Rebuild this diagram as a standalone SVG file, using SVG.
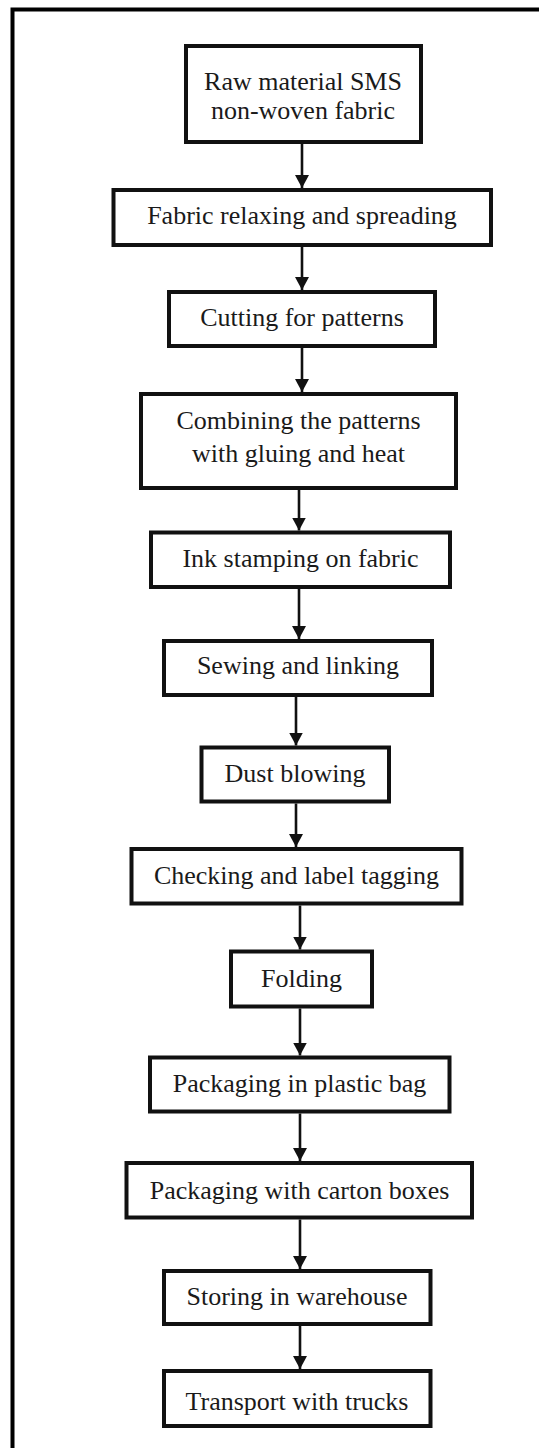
<svg xmlns="http://www.w3.org/2000/svg" width="539" height="1448" viewBox="0 0 539 1448">
  <style>
    .box { fill: #ffffff; stroke: #111111; stroke-width: 4; }
    .lbl { font-family: "Liberation Serif", "Times New Roman", serif; font-size: 26px; fill: #1a1a1a; text-anchor: middle; }
    .frame { fill: none; stroke: #000000; stroke-width: 4; }
    .edge { stroke: #111111; stroke-width: 2.6; fill: none; marker-end: url(#head); }
  </style>
  <defs>
    <marker id="head" markerUnits="userSpaceOnUse" markerWidth="16" markerHeight="14" refX="13" refY="7" orient="auto">
      <path d="M0,0 L13,7 L0,14 Z" fill="#111111"/>
    </marker>
  </defs>
  <rect width="539" height="1448" fill="#ffffff"/>
  <!-- open frame: top and left edges only -->
  <path class="frame" d="M12.5,1448 L12.5,9.5 L539,9.5"/>

  <g id="connectors">
    <line class="edge" x1="302" y1="144" x2="302" y2="188"/>
    <line class="edge" x1="302" y1="247" x2="302" y2="290"/>
    <line class="edge" x1="302" y1="348" x2="302" y2="392"/>
    <line class="edge" x1="299" y1="490" x2="299" y2="530.5"/>
    <line class="edge" x1="299" y1="589" x2="299" y2="639"/>
    <line class="edge" x1="296" y1="697" x2="296" y2="745.5"/>
    <line class="edge" x1="296" y1="803.5" x2="296" y2="847"/>
    <line class="edge" x1="300" y1="905.5" x2="300" y2="949.5"/>
    <line class="edge" x1="300" y1="1008.5" x2="300" y2="1055.5"/>
    <line class="edge" x1="300" y1="1113.5" x2="300" y2="1161"/>
    <line class="edge" x1="300" y1="1219.5" x2="300" y2="1269"/>
    <line class="edge" x1="300" y1="1326" x2="300" y2="1369"/>
  </g>

  <g id="n1">
    <rect class="box" x="186" y="46" width="235" height="96"/>
    <text class="lbl" x="303" y="90">Raw material SMS</text>
    <text class="lbl" x="303" y="119">non-woven fabric</text>
  </g>
  <g id="n2">
    <rect class="box" x="113.5" y="190" width="377.5" height="55"/>
    <text class="lbl" x="302" y="224">Fabric relaxing and spreading</text>
  </g>
  <g id="n3">
    <rect class="box" x="169" y="292" width="266" height="54"/>
    <text class="lbl" x="302" y="326">Cutting for patterns</text>
  </g>
  <g id="n4">
    <rect class="box" x="141" y="394" width="315" height="94"/>
    <text class="lbl" x="298.5" y="428.5">Combining the patterns</text>
    <text class="lbl" x="298.5" y="461.5">with gluing and heat</text>
  </g>
  <g id="n5">
    <rect class="box" x="151" y="532.5" width="299" height="54.5"/>
    <text class="lbl" x="300.5" y="567">Ink stamping on fabric</text>
  </g>
  <g id="n6">
    <rect class="box" x="164" y="641" width="268" height="54"/>
    <text class="lbl" x="298" y="674">Sewing and linking</text>
  </g>
  <g id="n7">
    <rect class="box" x="201.5" y="747.5" width="187.5" height="54"/>
    <text class="lbl" x="295" y="782">Dust blowing</text>
  </g>
  <g id="n8">
    <rect class="box" x="131.5" y="849" width="330" height="54.5"/>
    <text class="lbl" x="296.5" y="883.5">Checking and label tagging</text>
  </g>
  <g id="n9">
    <rect class="box" x="231" y="951.5" width="141" height="55"/>
    <text class="lbl" x="301.5" y="987">Folding</text>
  </g>
  <g id="n10">
    <rect class="box" x="150" y="1057.5" width="299.5" height="54"/>
    <text class="lbl" x="299.5" y="1092">Packaging in plastic bag</text>
  </g>
  <g id="n11">
    <rect class="box" x="126.5" y="1163" width="345.5" height="54.5"/>
    <text class="lbl" x="299.5" y="1198.5">Packaging with carton boxes</text>
  </g>
  <g id="n12">
    <rect class="box" x="164" y="1271" width="266.5" height="53"/>
    <text class="lbl" x="297" y="1305">Storing in warehouse</text>
  </g>
  <g id="n13">
    <rect class="box" x="164" y="1371" width="266.5" height="55"/>
    <text class="lbl" x="297" y="1410">Transport with trucks</text>
  </g>
</svg>
